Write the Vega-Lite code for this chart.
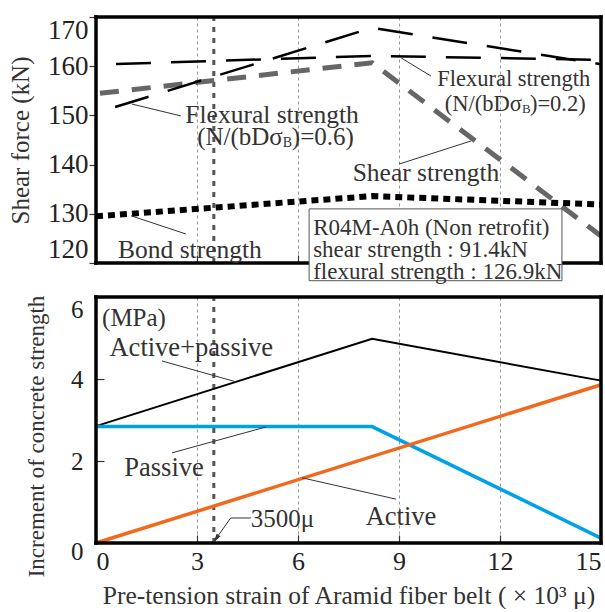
{
  "$schema": "https://vega.github.io/schema/vega-lite/v6.json",
  "background": "white",
  "padding": {"left": 8, "top": 14, "right": 0, "bottom": 0},
  "config": {
    "font": "Liberation Serif",
    "view": {"stroke": null},
    "axis": {"domain": false, "grid": false, "labelFont": "Liberation Serif", "titleFont": "Liberation Serif", "labelColor": "#222", "titleColor": "#333", "titleFontWeight": "normal", "tickColor": "#333", "tickWidth": 1.2, "gridColor": "#9a9a9a", "gridDash": [3, 3], "gridWidth": 1},
    "text": {"font": "Liberation Serif", "color": "#333"}
  },
  "bounds": "flush",
  "spacing": 34,
  "vconcat": [
    {
      "width": 505,
      "height": 246,
      "encoding": {
        "x": {"field": "x", "type": "quantitative", "scale": {"domain": [0, 15], "nice": false},
          "axis": {"values": [0, 3, 6, 9, 12, 15], "labels": false, "ticks": true, "tickSize": -8, "grid": true, "title": null}},
        "y": {"field": "y", "type": "quantitative", "scale": {"domain": [120, 170], "nice": false, "zero": false},
          "axis": {"values": [120, 130, 140, 150, 160, 170], "tickSize": 7, "labelFontSize": 27, "labelPadding": 1, "labelFlush": true, "title": "Shear force (kN)", "titleFontSize": 25, "titlePadding": 14}}
      },
      "layer": [
        {"data": {"values": [{"x": 3.5, "y": 120, "y2": 170}]},
         "mark": {"type": "rule", "color": "#555", "strokeWidth": 3, "strokeDash": [5, 6]},
         "encoding": {"y2": {"field": "y2"}}},
        {"data": {"values": [{"x": 0, "y": 154.4}, {"x": 8.2, "y": 160.7}, {"x": 15, "y": 125.5}]},
         "mark": {"type": "line", "color": "#666", "strokeWidth": 5, "strokeDash": [19, 13], "strokeDashOffset": 28}},
        {"data": {"values": [{"x": 0, "y": 129.5}, {"x": 8.2, "y": 133.6}, {"x": 15, "y": 131.9}]},
         "mark": {"type": "line", "color": "black", "strokeWidth": 6, "strokeDash": [7, 5]}},
        {"data": {"values": [{"x": 0, "y": 160.3}, {"x": 8.2, "y": 162.1}, {"x": 15, "y": 161.3}]},
         "mark": {"type": "line", "color": "black", "strokeWidth": 2.5, "strokeDash": [35, 20], "strokeDashOffset": 35}},
        {"data": {"values": [{"x": 0, "y": 150.5}, {"x": 8.2, "y": 167.8}, {"x": 15, "y": 160.4}]},
         "mark": {"type": "line", "color": "black", "strokeWidth": 2.5, "strokeDash": [35, 20], "strokeDashOffset": 35}},
        {"data": {"values": [
          {"x": 0, "y": 120, "x2": 0, "y2": 170},
          {"x": 15, "y": 120, "x2": 15, "y2": 170},
          {"x": 0, "y": 170, "x2": 15, "y2": 170},
          {"x": 0, "y": 120, "x2": 15, "y2": 120}
        ]},
         "mark": {"type": "rule", "color": "black", "strokeWidth": 3.5, "strokeCap": "square"},
         "encoding": {"x2": {"field": "x2"}, "y2": {"field": "y2"}}},
        {"data": {"values": [
          {"x": 1.07, "y": 152.3, "x2": 2.52, "y2": 149.9},
          {"x": 9.06, "y": 161.7, "x2": 9.95, "y2": 158.0},
          {"x": 9.0, "y": 140.1, "x2": 11.14, "y2": 144.8},
          {"x": 1.04, "y": 129.6, "x2": 2.67, "y2": 125.9}
        ]},
         "mark": {"type": "rule", "color": "#333", "strokeWidth": 1},
         "encoding": {"x2": {"field": "x2"}, "y2": {"field": "y2"}}},
        {"data": {"values": [
          {"x": 5.23, "y": 150.1, "text": "Flexural strength"},
          {"x": 9.8, "y": 138.2, "text": "Shear strength"},
          {"x": 2.79, "y": 122.6, "text": "Bond strength"}
        ]},
         "mark": {"type": "text", "fontSize": 25.5, "align": "center", "baseline": "middle"},
         "encoding": {"text": {"field": "text"}}},
        {"data": {"values": [{"x": 5.55, "y": 145.6, "text": "(N/(bDσ"}]},
         "mark": {"type": "text", "fontSize": 25, "align": "right", "baseline": "middle"},
         "encoding": {"text": {"field": "text"}}},
        {"data": {"values": [{"x": 5.55, "y": 145.6, "text": "B"}]},
         "mark": {"type": "text", "fontSize": 14, "align": "left", "baseline": "middle", "dy": 6},
         "encoding": {"text": {"field": "text"}}},
        {"data": {"values": [{"x": 5.55, "y": 145.6, "text": ")=0.6)"}]},
         "mark": {"type": "text", "fontSize": 25, "align": "left", "baseline": "middle", "dx": 9},
         "encoding": {"text": {"field": "text"}}},
        {"data": {"values": [{"x": 12.41, "y": 157.5, "text": "Flexural strength"}]},
         "mark": {"type": "text", "fontSize": 22.5, "align": "center", "baseline": "middle"},
         "encoding": {"text": {"field": "text"}}},
        {"data": {"values": [{"x": 12.65, "y": 152.4, "text": "(N/(bDσ"}]},
         "mark": {"type": "text", "fontSize": 22.5, "align": "right", "baseline": "middle"},
         "encoding": {"text": {"field": "text"}}},
        {"data": {"values": [{"x": 12.65, "y": 152.4, "text": "B"}]},
         "mark": {"type": "text", "fontSize": 13, "align": "left", "baseline": "middle", "dy": 5},
         "encoding": {"text": {"field": "text"}}},
        {"data": {"values": [{"x": 12.65, "y": 152.4, "text": ")=0.2)"}]},
         "mark": {"type": "text", "fontSize": 22.5, "align": "left", "baseline": "middle", "dx": 8},
         "encoding": {"text": {"field": "text"}}},
        {"data": {"values": [{"x": 6.33, "x2": 13.84, "y": 131.0, "y2": 116.4}]},
         "mark": {"type": "rect", "fill": "white", "stroke": "#555", "strokeWidth": 1},
         "encoding": {"x2": {"field": "x2"}, "y2": {"field": "y2"}}},
        {"data": {"values": [
          {"x": 6.45, "y": 127.1, "text": "R04M-A0h (Non retrofit)"},
          {"x": 6.45, "y": 122.6, "text": "shear strength : 91.4kN"},
          {"x": 6.45, "y": 118.2, "text": "flexural strength : 126.9kN"}
        ]},
         "mark": {"type": "text", "fontSize": 23, "align": "left", "baseline": "middle"},
         "encoding": {"text": {"field": "text"}}}
      ]
    },
    {
      "width": 505,
      "height": 246,
      "encoding": {
        "x": {"field": "x", "type": "quantitative", "scale": {"domain": [0, 15], "nice": false},
          "axis": {"values": [0, 3, 6, 9, 12, 15], "tickSize": -8, "labelFontSize": 26, "labelPadding": 13, "grid": true, "title": "Pre-tension strain of Aramid fiber belt ( × 10³ μ)", "titleFontSize": 25.5, "titlePadding": 9}},
        "y": {"field": "y", "type": "quantitative", "scale": {"domain": [0, 6], "nice": false},
          "axis": {"values": [0, 2, 4, 6], "tickSize": -8, "labelFontSize": 25, "labelPadding": 21,
            "labelOffset": {"condition": [{"test": "datum.value == 6", "value": 12}, {"test": "datum.value == 0", "value": 8}], "value": 0},
            "title": "Increment of concrete strength", "titleFontSize": 23, "titlePadding": 22, "titleY": 139}}
      },
      "layer": [
        {"data": {"values": [{"x": 3.5, "y": 0, "y2": 6}]},
         "mark": {"type": "rule", "color": "#555", "strokeWidth": 3, "strokeDash": [5, 6]},
         "encoding": {"y2": {"field": "y2"}}},
        {"data": {"values": [{"x": 0, "y": 2.85}, {"x": 8.2, "y": 4.98}, {"x": 15, "y": 3.96}]},
         "mark": {"type": "line", "color": "black", "strokeWidth": 2}},
        {"data": {"values": [{"x": 0, "y": 2.84}, {"x": 8.2, "y": 2.84}, {"x": 15, "y": 0.12}]},
         "mark": {"type": "line", "color": "#00a2e5", "strokeWidth": 3.5}},
        {"data": {"values": [{"x": 0, "y": 0}, {"x": 15, "y": 3.86}]},
         "mark": {"type": "line", "color": "#f0691c", "strokeWidth": 3.5}},
        {"data": {"values": [
          {"x": 0, "y": 0, "x2": 0, "y2": 6},
          {"x": 15, "y": 0, "x2": 15, "y2": 6},
          {"x": 0, "y": 6, "x2": 15, "y2": 6},
          {"x": 0, "y": 0, "x2": 15, "y2": 0}
        ]},
         "mark": {"type": "rule", "color": "black", "strokeWidth": 3.5, "strokeCap": "square"},
         "encoding": {"x2": {"field": "x2"}, "y2": {"field": "y2"}}},
        {"data": {"values": [
          {"x": 1.96, "y": 4.44, "x2": 4.16, "y2": 3.93},
          {"x": 2.26, "y": 2.2, "x2": 5.05, "y2": 2.83},
          {"x": 6.12, "y": 1.59, "x2": 8.91, "y2": 1.07},
          {"x": 4.6, "y": 0.61, "x2": 4.0, "y2": 0.61},
          {"x": 4.0, "y": 0.61, "x2": 3.56, "y2": 0.1}
        ]},
         "mark": {"type": "rule", "color": "#333", "strokeWidth": 1},
         "encoding": {"x2": {"field": "x2"}, "y2": {"field": "y2"}}},
        {"data": {"values": [{"x": 3.58, "y": 0.12}]},
         "mark": {"type": "point", "shape": "M0,-1L0.45,0.7L-0.45,0.7Z", "filled": true, "color": "#333", "size": 110, "angle": 214, "opacity": 1}},
        {"data": {"values": [{"x": 0.18, "y": 5.49, "text": "(MPa)"}]},
         "mark": {"type": "text", "fontSize": 25, "align": "left", "baseline": "middle"},
         "encoding": {"text": {"field": "text"}}},
        {"data": {"values": [
          {"x": 2.83, "y": 4.76, "text": "Active+passive"},
          {"x": 2.02, "y": 1.83, "text": "Passive"},
          {"x": 9.06, "y": 0.63, "text": "Active"}
        ]},
         "mark": {"type": "text", "fontSize": 26.5, "align": "center", "baseline": "middle"},
         "encoding": {"text": {"field": "text"}}},
        {"data": {"values": [{"x": 4.6, "y": 0.59, "text": "3500μ"}]},
         "mark": {"type": "text", "fontSize": 25, "align": "left", "baseline": "middle"},
         "encoding": {"text": {"field": "text"}}}
      ]
    }
  ]
}
